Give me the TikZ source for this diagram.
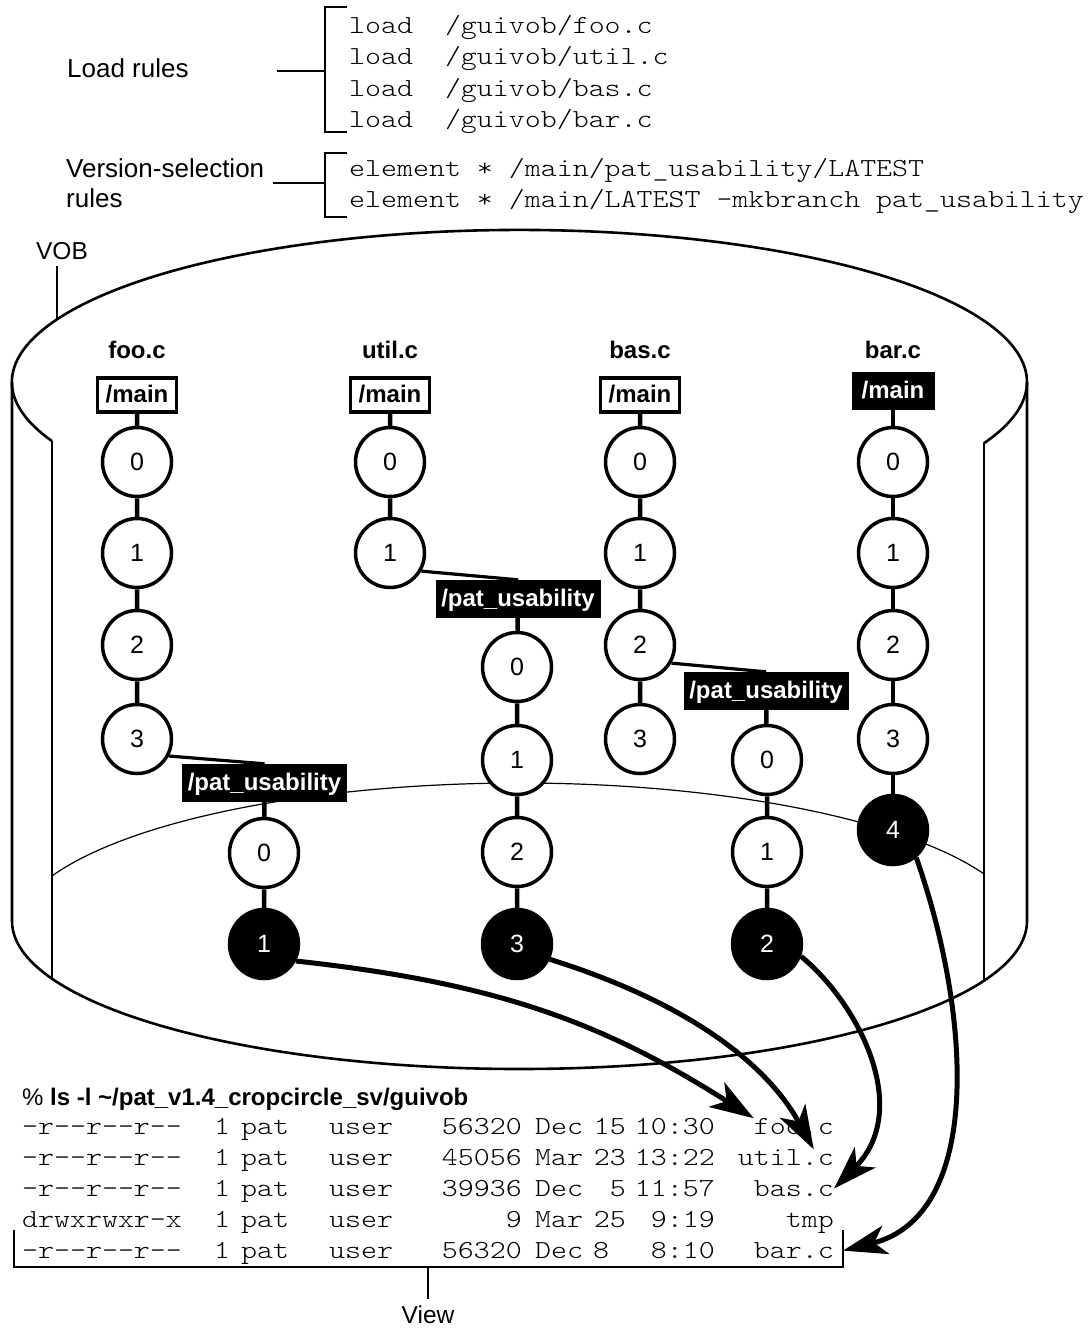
\documentclass[tikz,border=0pt]{standalone}
\usepackage{fontspec}
\setmainfont{Liberation Sans}
\newfontfamily\monofnt{lmmonolt10-regular.otf}[FakeStretch=1.17]
\usetikzlibrary{arrows.meta,calc}
\tikzset{
  ver/.style={circle,draw,line width=3.5pt,fill=white,minimum size=69pt,inner sep=0pt,font=\fontsize{25}{30}\selectfont},
  verhead/.style={ver,fill=black,text=white},
  link/.style={line width=4.5pt},
  brlink/.style={line width=3.2pt},
  mainw/.style={draw,line width=3.5pt,fill=white,minimum width=79pt,minimum height=34pt,inner sep=0pt,font=\bfseries\fontsize{24}{28}\selectfont,text height=18pt,text depth=4pt},
  mainb/.style={fill=black,text=white,minimum width=83pt,minimum height=38pt,inner sep=0pt,font=\bfseries\fontsize{24}{28}\selectfont,text height=18pt,text depth=4pt},
  brlab/.style={mainb,minimum width=165pt},
  fname/.style={font=\bfseries\fontsize{24}{28}\selectfont,inner sep=0pt,anchor=base},
  lbl/.style={font=\fontsize{26}{30}\selectfont,inner sep=0pt},
  lblsmall/.style={font=\fontsize{24.5}{29}\selectfont,inner sep=0pt},
  mono/.style={font=\monofnt\fontsize{26}{30}\selectfont,inner sep=0pt},
  cyl/.style={line width=2.6pt},
  floorline/.style={line width=1.2pt},
  brk/.style={line width=2.8pt},
  thinbrk/.style={line width=2.4pt},
  arr/.style={line width=5pt,-{Stealth[length=44pt,width=29pt,inset=12pt]}},
}
\newcommand\lsrow[9]{%
  \node[mono,anchor=base west] (#1p) at (22,#2) {#3};
  \node[mono,anchor=base west] (#1n) at (214,#2) {1};
  \node[mono,anchor=base west] (#1o) at (241,#2) {pat};
  \node[mono,anchor=base west] (#1g) at (329,#2) {user};
  \node[mono,anchor=base east] (#1s) at (522,#2) {#4};
  \node[mono,anchor=base west] (#1m) at (535,#2) {#5};
  \node[mono,anchor=#6] (#1d) at (#7,#2) {#8};
  \node[mono,anchor=base east] (#1t) at (715,#2) {#9};
}
\begin{document}
\begin{tikzpicture}[x=1pt,y=-1pt]
\useasboundingbox (0,0) rectangle (1091,1328);

% ---- rules at the top
\node[lbl,anchor=base west] (loadlbl) at (67,77) {Load rules};
\node[lbl,anchor=base west] (vsel) at (66,177) {Version-selection};
\node[lbl,anchor=base west] (vsel2) at (66,207) {rules};
\node[mono,anchor=base west] (l1) at (349,33) {load\ \ /guivob/foo.c};
\node[mono,anchor=base west] (l2) at (349,64.5) {load\ \ /guivob/util.c};
\node[mono,anchor=base west] (l3) at (349,96) {load\ \ /guivob/bas.c};
\node[mono,anchor=base west] (l4) at (349,127.5) {load\ \ /guivob/bar.c};
\node[mono,anchor=base west] (e1) at (349,176) {element * /main/pat\_usability/LATEST};
\node[mono,anchor=base west] (e2) at (349,207) {element * /main/LATEST -mkbranch pat\_usability};
\draw[brk] (347,7) -- (325,7) -- (325,132) -- (347,132);
\draw[brk] (277,71) -- (325,71);
\draw[brk] (347,153) -- (325,153) -- (325,217) -- (347,217);
\draw[brk] (273,183) -- (325,183);

% ---- VOB cylinder
\node[lblsmall,anchor=base] (vob) at (62,259) {VOB};
\coordinate (vobpt) at (57,319.4);
\draw[cyl] (vob.south -| vobpt) ++(0,7) -- (vobpt);
\draw[cyl] (52,441.1) arc[start angle=202.9,end angle=-23.8,x radius=507.5pt,y radius=152pt];
\draw[cyl] (12,382) -- (12,921) arc[start angle=180,end angle=360,x radius=507.5pt,y radius=148pt] -- (1027,382);
\draw[cyl] (52,441.1) -- (52,978.6);
\draw[cyl] (983.8,443.3) -- (983.8,980.7);
\draw[floorline] (52,875.9) arc[start angle=157.1,end angle=23.8,x radius=507.5pt,y radius=152pt];

% ---- element names
\node[fname] (nfoo) at (137,358) {foo.c};
\node[fname] (nutil) at (390,358) {util.c};
\node[fname] (nbas) at (640,358) {bas.c};
\node[fname] (nbar) at (893,358) {bar.c};

% ---- foo.c
\node[mainw] (fm) at (137,395) {/main};
\node[ver] (f0) at (137,462) {0};
\node[ver] (f1) at (137,553) {1};
\node[ver] (f2) at (137,645) {2};
\node[ver] (f3) at (137,739) {3};
\node[brlab] (fb) at (264.5,783) {/pat\_usability};
\node[ver] (fb0) at (264,853) {0};
\node[verhead] (fb1) at (264,944) {1};
% ---- util.c
\node[mainw] (um) at (390,395) {/main};
\node[ver] (u0) at (390,462) {0};
\node[ver] (u1) at (390,553) {1};
\node[brlab] (ub) at (518,599) {/pat\_usability};
\node[ver] (ub0) at (517,667) {0};
\node[ver] (ub1) at (517,760) {1};
\node[ver] (ub2) at (517,852) {2};
\node[verhead] (ub3) at (517,944) {3};
% ---- bas.c
\node[mainw] (bm) at (640,395) {/main};
\node[ver] (b0) at (640,462) {0};
\node[ver] (b1) at (640,553) {1};
\node[ver] (b2) at (640,645) {2};
\node[ver] (b3) at (640,739) {3};
\node[brlab] (bb) at (766,691) {/pat\_usability};
\node[ver] (bb0) at (767,760) {0};
\node[ver] (bb1) at (767,852) {1};
\node[verhead] (bb2) at (767,944) {2};
% ---- bar.c
\node[mainb] (rm) at (893,391) {/main};
\node[ver] (r0) at (893,462) {0};
\node[ver] (r1) at (893,553) {1};
\node[ver] (r2) at (893,645) {2};
\node[ver] (r3) at (893,739) {3};
\node[verhead] (r4) at (893,830) {4};

% ---- links
\draw[link] (fm) -- (f0) (f0) -- (f1) (f1) -- (f2) (f2) -- (f3) (fb) -- (fb0) (fb0) -- (fb1);
\draw[brlink] (f3.-28) -- (fb.north);
\draw[link] (um) -- (u0) (u0) -- (u1) (ub) -- (ub0) (ub0) -- (ub1) (ub1) -- (ub2) (ub2) -- (ub3);
\draw[brlink] (u1.-30) -- (ub.north);
\draw[link] (bm) -- (b0) (b0) -- (b1) (b1) -- (b2) (b2) -- (b3) (bb) -- (bb0) (bb0) -- (bb1) (bb1) -- (bb2);
\draw[brlink] (b2.-30) -- (bb.north);
\draw[link] (rm) -- (r0) (r0) -- (r1) (r1) -- (r2) (r2) -- (r3) (r3) -- (r4);

% ---- listing
\node[lblsmall,font=\fontsize{24}{28}\selectfont,anchor=base west] (hdr) at (22,1105) {\%\ \textbf{ls -l \textasciitilde/pat\_v1.4\_cropcircle\_sv/guivob}};
\lsrow{ra}{1134.5}{-r-\kern0pt-r-\kern0pt-r-\kern0pt-}{56320}{Dec}{base east}{626}{15}{10:30}
\lsrow{rb}{1165.5}{-r-\kern0pt-r-\kern0pt-r-\kern0pt-}{45056}{Mar}{base east}{626}{23}{13:22}
\lsrow{rc}{1196.5}{-r-\kern0pt-r-\kern0pt-r-\kern0pt-}{39936}{Dec}{base east}{626}{5}{11:57}
\lsrow{rd}{1227.5}{drwxrwxr-x}{9}{Mar}{base east}{626}{25}{9:19}
\lsrow{re}{1258.5}{-r-\kern0pt-r-\kern0pt-r-\kern0pt-}{56320}{Dec}{base west}{593}{8}{8:10}
\node[mono,anchor=base east] (ffoo) at (834,1134.5) {foo.c};
\node[mono,anchor=base east] (futil) at (834,1165.5) {util.c};
\node[mono,anchor=base east] (fbas) at (834,1196.5) {bas.c};
\node[mono,anchor=base east] (ftmp) at (834,1227.5) {tmp};
\node[mono,anchor=base east] (fbar) at (834,1258.5) {bar.c};
\draw[thinbrk] (14,1230) -- (14,1267) -- (843,1267) -- (843,1230);
\node[lblsmall,anchor=base] (view) at (428,1323) {View};
\coordinate (viewtop) at (428,1268);
\draw[line width=2pt] (viewtop) -- ([yshift=6pt]view.north);

% ---- arrows
\draw[arr] (fb1.-28) .. controls (498,983) and (604,1023) .. (ffoo.north west);
\draw[arr] (ub3.-25) .. controls (680,1000) and (764,1059) .. ($(futil.north west)!0.79!(futil.north east)$);
\draw[arr] (bb2.-20) .. controls (860,1005) and (912,1110) .. (fbas.east);
\draw[arr] (r4.-50) .. controls (970,1010) and (985,1215) .. ([xshift=9pt]fbar.east);
\end{tikzpicture}
\end{document}
